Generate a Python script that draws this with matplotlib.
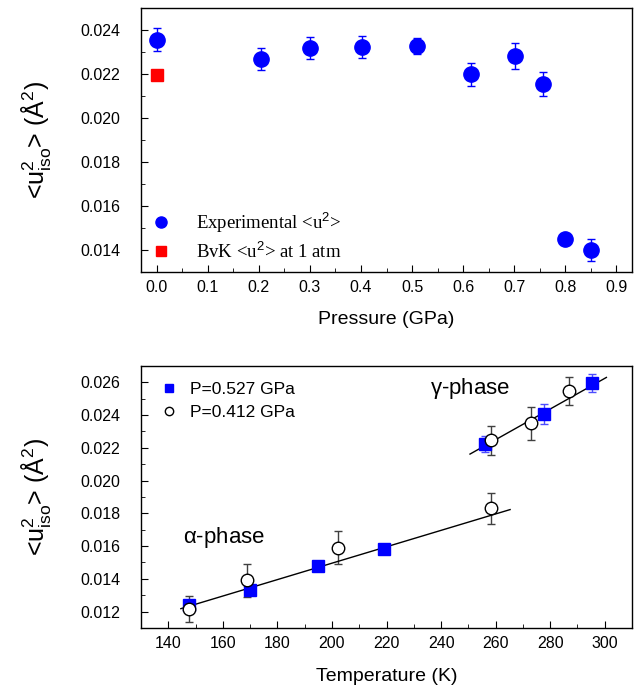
import matplotlib.pyplot as plt
from matplotlib.lines import Line2D
from matplotlib.ticker import MultipleLocator, FormatStrFormatter

plt.rcParams['font.family'] = 'Liberation Sans'
plt.rcParams['mathtext.fontset'] = 'custom'
plt.rcParams['mathtext.rm'] = 'Liberation Sans'
plt.rcParams['mathtext.it'] = 'Liberation Sans'

# top panel: u^2 vs pressure
pressure = [0.0, 0.2035, 0.300, 0.401, 0.510, 0.616, 0.702, 0.757, 0.800, 0.850]
u2_exp = [0.02356, 0.02270, 0.02317, 0.02323, 0.02327, 0.02198, 0.02283, 0.02153, 0.01452, 0.01400]
u2_exp_err = [0.00053, 0.00050, 0.00050, 0.00050, 0.00037, 0.00052, 0.00060, 0.00055, 0.0, 0.00050]
bvk_p = [0.0]
bvk_u2 = [0.02194]

# bottom panel: u^2 vs temperature
T_527 = [147.7, 170.0, 195.0, 219.0, 256.0, 277.6, 295.3]
u2_527 = [0.01238, 0.01331, 0.01476, 0.01583, 0.02223, 0.02405, 0.02594]
u2_527_err = [0.0003, 0.0003, 0.0002, 0.0002, 0.0005, 0.0006, 0.00056]
T_412 = [147.7, 168.8, 202.2, 258.2, 258.2, 273.0, 287.0]
u2_412 = [0.01216, 0.01390, 0.01591, 0.02245, 0.01830, 0.02350, 0.02547]
u2_412_err = [0.0008, 0.0010, 0.0010, 0.00087, 0.00094, 0.0010, 0.00088]

alpha_fit_T = [144.6, 265.3]
alpha_fit_u = [0.01218, 0.01823]
gamma_fit_T = [250.6, 300.6]
gamma_fit_u = [0.02162, 0.02630]

ylab = r'<u$^{2}_{\rm iso}$> ($\rm\AA^{2}$)'

fig = plt.figure(figsize=(6.39, 6.87), dpi=100)
ax1 = fig.add_axes([0.2207, 0.6041, 0.7684, 0.3843])
ax2 = fig.add_axes([0.2207, 0.0859, 0.7684, 0.3814])

ax1.errorbar(pressure, u2_exp, yerr=u2_exp_err, fmt='o', color='#0000ff', ms=11,
             ecolor='#0000ff', elinewidth=1, capsize=3, capthick=1)
ax1.plot(bvk_p, bvk_u2, 's', color='#ff0000', ms=9)
ax1.set_xlim(-0.031, 0.931)
ax1.set_ylim(0.013, 0.025)
ax1.xaxis.set_major_locator(MultipleLocator(0.1))
ax1.xaxis.set_minor_locator(MultipleLocator(0.05))
ax1.yaxis.set_major_locator(MultipleLocator(0.002))
ax1.yaxis.set_minor_locator(MultipleLocator(0.001))
ax1.xaxis.set_major_formatter(FormatStrFormatter('%.1f'))
ax1.yaxis.set_major_formatter(FormatStrFormatter('%.3f'))
ax1.set_xlabel('Pressure (GPa)', fontsize=14, labelpad=11)
ax1.set_ylabel(ylab, fontsize=18)
ax1.yaxis.set_label_coords(-0.18, 0.5)
h1 = [Line2D([], [], ls='none', marker='o', color='#0000ff', ms=8),
      Line2D([], [], ls='none', marker='s', color='#ff0000', ms=7)]
ax1.legend(h1, ['Experimental <u$^{2}$>', 'BvK <u$^{2}$> at 1 atm'],
           loc='lower left', frameon=False, handletextpad=1.4, handlelength=1.0,
           prop={'family': 'Liberation Serif', 'size': 13.5}, labelspacing=0.35,
           borderaxespad=0.15)

ax2.errorbar(T_527, u2_527, yerr=u2_527_err, fmt='s', color='#0000ff', ms=9,
             ecolor='#4d4dff', elinewidth=1, capsize=3, capthick=1)
ax2.errorbar(T_412, u2_412, yerr=u2_412_err, fmt='o', mfc='white', mec='black', ms=9,
             mew=1, ecolor='#404040', elinewidth=1, capsize=3, capthick=1)
ax2.plot(alpha_fit_T, alpha_fit_u, color='black', lw=1)
ax2.plot(gamma_fit_T, gamma_fit_u, color='black', lw=1)
ax2.text(236, 0.02565, r'$\gamma$-phase', fontsize=16, va='center')
ax2.text(145.5, 0.0165, r'$\alpha$-phase', fontsize=16, va='center')
ax2.set_xlim(130, 310)
ax2.set_ylim(0.011, 0.027)
ax2.xaxis.set_major_locator(MultipleLocator(20))
ax2.xaxis.set_minor_locator(MultipleLocator(10))
ax2.yaxis.set_major_locator(MultipleLocator(0.002))
ax2.yaxis.set_minor_locator(MultipleLocator(0.001))
ax2.yaxis.set_major_formatter(FormatStrFormatter('%.3f'))
ax2.set_xlabel('Temperature (K)', fontsize=14, labelpad=12)
ax2.set_ylabel(ylab, fontsize=18)
ax2.yaxis.set_label_coords(-0.18, 0.5)
h2 = [Line2D([], [], ls='none', marker='s', color='#0000ff', ms=6),
      Line2D([], [], ls='none', marker='o', mfc='white', mec='black', ms=6)]
ax2.legend(h2, ['P=0.527 GPa', 'P=0.412 GPa'], loc='upper left', frameon=False,
           handletextpad=0.5, handlelength=1.4, fontsize=12.5, labelspacing=0.45,
           borderaxespad=0.5)

for ax in (ax1, ax2):
    ax.tick_params(which='both', direction='in', top=False, right=False, labelsize=11.5)
    ax.tick_params(which='major', length=5, pad=6)
    ax.tick_params(which='minor', length=3)
    ax.tick_params(axis='y', which='major', pad=15)
    for s in ax.spines.values():
        s.set_linewidth(1)

fig.savefig('out.png', dpi=100)
